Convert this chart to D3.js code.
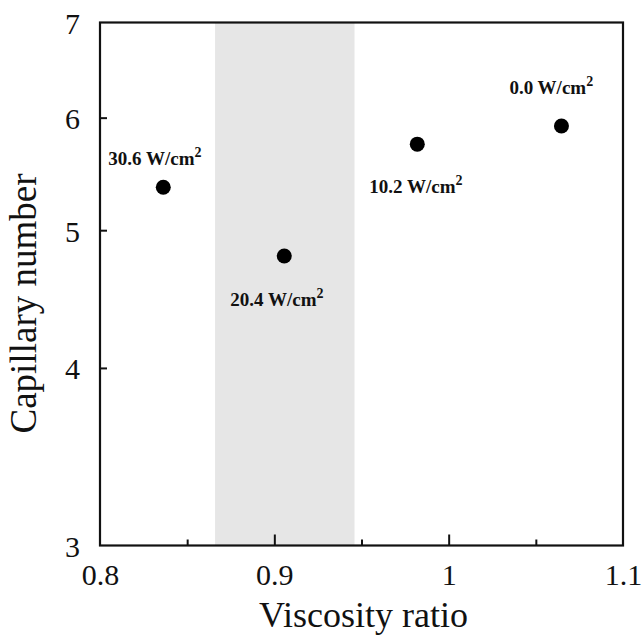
<!DOCTYPE html>
<html><head><meta charset="utf-8">
<script src="https://cdn.jsdelivr.net/npm/d3@7"></script>
<style>body{margin:0;background:#fff}svg{display:block}</style>
</head><body>
<svg id="c" width="642" height="638"></svg>
<script>
const labels = ["30.6", "20.4", "10.2", "0.0"];
const viscosityRatio = [0.8363, 0.9057, 0.982, 1.0647];
const capillaryNumber = [5.36, 4.795, 5.748, 5.919];
const band = [0.866, 0.946];
const xMajorTicks = [0.8, 0.9, 1, 1.1];
const xMinorTicks = [0.85, 0.95, 1.05];
const yTicks = [3, 4, 5, 6, 7];
// label placement: [dx, dy] offset from point, in px
const labelOffsets = [[-55, -22], [-54, 50], [-48, 49], [-52, -32]];

const svg = d3.select("#c");
const m = {l: 100, r: 623, t: 22.5, b: 545.5};
const x = d3.scaleLinear().domain([0.8, 1.1]).range([m.l, m.r]);
const y = d3.scaleLog().domain([3, 7]).range([m.b, m.t]);
const serif = "'Liberation Serif','Times New Roman',serif";

svg.append("rect").attr("x", x(band[0])).attr("y", m.t)
  .attr("width", x(band[1]) - x(band[0])).attr("height", m.b - m.t)
  .attr("fill", "#e6e6e6");

// axes
const gx = svg.append("g").attr("transform", `translate(0,${m.b})`)
  .call(d3.axisBottom(x).tickValues(xMajorTicks).tickSize(-11).tickPadding(18)
    .tickFormat(d => d3.format("")(d)));
gx.selectAll(".tick").filter(d => d === 0.8 || d === 1.1).select("line").remove();
const gxm = svg.append("g").attr("transform", `translate(0,${m.b})`)
  .call(d3.axisBottom(x).tickValues(xMinorTicks).tickSize(-6).tickFormat(""));
gxm.select(".domain").remove();
const gy = svg.append("g").attr("transform", `translate(${m.l},0)`)
  .call(d3.axisLeft(y).tickValues(yTicks).tickSize(-7).tickPadding(20).tickFormat(d3.format("d")));
gy.selectAll(".tick").filter(d => d === 3 || d === 7).select("line").remove();
[gx, gxm, gy].forEach(g => {
  g.selectAll("line").attr("stroke", "#111").attr("stroke-width", 2);
  g.select(".domain").remove();
  g.selectAll("text").attr("fill", "#111").style("font-family", serif).style("font-size", "30px");
});
gx.selectAll("text").attr("dy", "0.71em");
gy.selectAll("text").attr("dy", "0.36em");

svg.append("rect").attr("x", m.l).attr("y", m.t).attr("width", m.r - m.l).attr("height", m.b - m.t)
  .attr("fill", "none").attr("stroke", "#111").attr("stroke-width", 2.2);

// points
const pts = labels.map((l, i) => ({l, vx: viscosityRatio[i], vy: capillaryNumber[i], o: labelOffsets[i]}));
svg.selectAll("circle.pt").data(pts).join("circle").attr("class", "pt")
  .attr("cx", d => x(d.vx)).attr("cy", d => y(d.vy)).attr("r", 7.5).attr("fill", "#000");
const t = svg.selectAll("text.lab").data(pts).join("text").attr("class", "lab")
  .attr("x", d => x(d.vx) + d.o[0]).attr("y", d => y(d.vy) + d.o[1])
  .style("font-family", serif).style("font-size", "19px").style("font-weight", "bold").attr("fill", "#111");
t.append("tspan").text(d => d.l + " W/cm");
t.append("tspan").text("2").attr("dy", "-8").style("font-size", "14px");

// titles
svg.append("text").attr("x", 363.5).attr("y", 627).attr("text-anchor", "middle")
  .style("font-family", serif).style("font-size", "36px").attr("fill", "#111").text("Viscosity ratio");
svg.append("text").attr("transform", `translate(36,303.5) rotate(-90)`).attr("text-anchor", "middle")
  .style("font-family", serif).style("font-size", "37px").attr("fill", "#111").text("Capillary number");
</script>
</body></html>
